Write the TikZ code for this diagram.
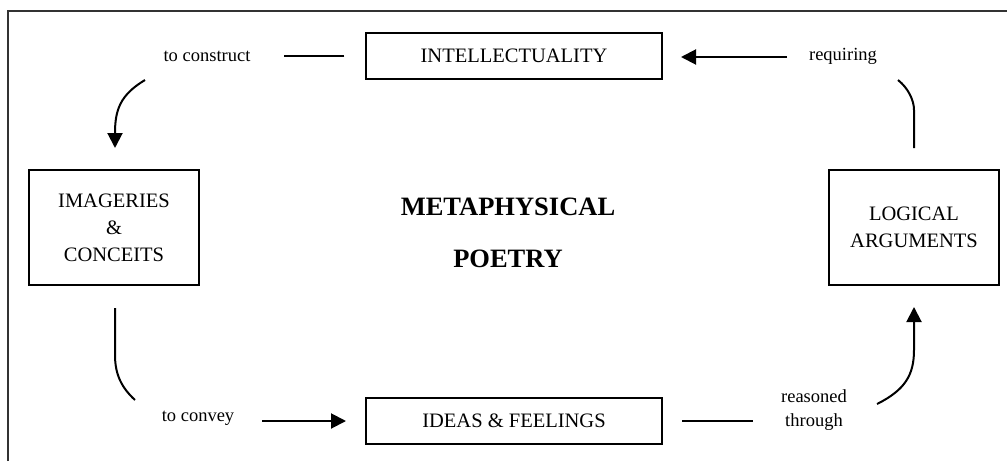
\documentclass[tikz,border=0pt]{standalone}
\usepackage{fontspec}
\setmainfont{Liberation Serif}
\usetikzlibrary{arrows.meta}
\begin{document}
\begin{tikzpicture}[x=1pt,y=-1pt,
  box/.style={draw,line width=1.4pt,inner sep=0pt,align=center,font=\fontsize{20.5}{27}\selectfont},
  lbl/.style={inner sep=0pt,align=center,font=\fontsize{18.5}{24}\selectfont},
  conn/.style={line width=2pt},
  arr/.style={line width=2pt,-{Triangle[width=15pt,length=15pt]}}]
\useasboundingbox (0,0) rectangle (1007,461);
\draw[line width=1.5pt,black!80] (8,461) -- (8,11) -- (1007,11);
\node[box,minimum width=296pt,minimum height=46pt] (int) at (514,56) {INTELLECTUALITY};
\node[box,minimum width=296pt,minimum height=46pt] (ideas) at (514,421) {IDEAS \& FEELINGS};
\node[box,minimum width=170pt,minimum height=115pt] (img) at (114,227.5) {IMAGERIES\\\&\\CONCEITS};
\node[box,minimum width=170pt,minimum height=115pt] (log) at (914,227.5) {LOGICAL\\ARGUMENTS};
\node[font=\bfseries\fontsize{26.5}{52}\selectfont,align=center] (meta) at (508,233) {METAPHYSICAL\\POETRY};
\node[lbl] (construct) at (207,56) {to construct};
\node[lbl] (requiring) at (843,56) {requiring};
\node[lbl] (convey) at (198,418) {to convey};
\node[lbl] (reasoned) at (814,410) {reasoned\\through};
% top-left
\coordinate (c1s) at (145,80);
\coordinate (c1e) at (115,148);
\draw[conn,shorten <=21pt,shorten >=33pt] (int.west) -- (construct.east);
\draw[arr] (c1s) .. controls (120,95) and (115,110) .. (c1e);
% left-bottom
\coordinate (c2s) at (115,308);
\coordinate (c2m) at (115,355);
\coordinate (c2e) at (135,400);
\draw[conn] (c2s) -- (c2m) .. controls (115,375) and (122,388) .. (c2e);
\coordinate (a2s) at (262,421);
\coordinate (a2e) at (346,421);
\draw[arr] (a2s) -- (a2e);
% bottom-right
\coordinate (l3s) at (682,421);
\coordinate (l3e) at (753,421);
\draw[conn] (l3s) -- (l3e);
\coordinate (c3s) at (877,404);
\coordinate (c3m) at (914,350);
\coordinate (c3e) at (914,307);
\draw[arr] (c3s) .. controls (905,390) and (914,375) .. (c3m) -- (c3e);
% right-top
\coordinate (c4s) at (914,148);
\coordinate (c4m) at (914,110);
\coordinate (c4e) at (898,80);
\draw[conn] (c4s) -- (c4m) .. controls (914,100) and (908,88) .. (c4e);
\coordinate (a4s) at (787,57);
\coordinate (a4e) at (681,57);
\draw[arr] (a4s) -- (a4e);
\end{tikzpicture}
\end{document}
